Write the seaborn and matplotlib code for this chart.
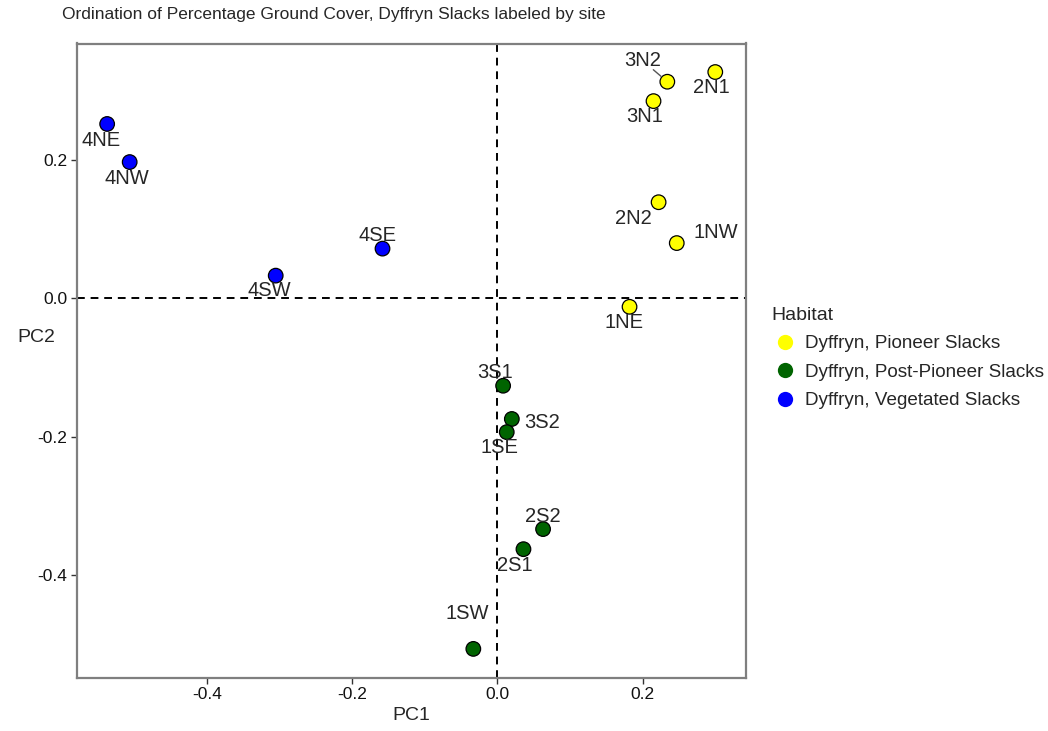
import matplotlib
matplotlib.use('Agg')
import matplotlib.pyplot as plt
import seaborn as sns
import pandas as pd

# PCA scores
sites = ['4NE', '4NW', '4SW', '4SE',
         '3N2', '2N1', '3N1', '2N2', '1NW', '1NE',
         '3S1', '3S2', '1SE', '2S2', '2S1', '1SW']
pc1 = [-0.537, -0.506, -0.305, -0.158,
       0.234, 0.300, 0.215, 0.222, 0.247, 0.182,
       0.008, 0.020, 0.013, 0.063, 0.036, -0.033]
pc2 = [0.252, 0.197, 0.033, 0.072,
       0.313, 0.327, 0.285, 0.139, 0.080, -0.012,
       -0.126, -0.174, -0.193, -0.333, -0.362, -0.506]
habitat = (['Dyffryn, Vegetated Slacks'] * 4
           + ['Dyffryn, Pioneer Slacks'] * 6
           + ['Dyffryn, Post-Pioneer Slacks'] * 6)
hab_order = ['Dyffryn, Pioneer Slacks', 'Dyffryn, Post-Pioneer Slacks',
             'Dyffryn, Vegetated Slacks']
hab_colors = ['#FFFF00', '#006400', '#0000FF']

# label offsets (pixels, x right / y down) mimicking the repelled labels
label_dx = [-6, -3, -6, -5, -25, -4, -9, -25, 39, -6, -8, 30, -7, 0, -9, -6]
label_dy = [17, 16, 15, -13, -21, 15, 15, 16, -11, 16, -13, 4, 15, -13, 16, -35]

df = pd.DataFrame({'site': sites, 'PC1': pc1, 'PC2': pc2, 'Habitat': habitat})

sns.set_style('white')
plt.rcParams['font.family'] = ['Liberation Sans', 'DejaVu Sans']

W, H = 1048, 731
fig = plt.figure(figsize=(W / 100, H / 100), dpi=100)
ax = fig.add_axes([77 / W, 1 - 677.7 / H, (746 - 77) / W, (677.7 - 43.5) / H])

ax.axhline(0, color='black', linestyle=(0, (4, 3)), linewidth=1.4, zorder=1)
ax.axvline(0, color='black', linestyle=(0, (4, 3)), linewidth=1.4, zorder=1)

sns.scatterplot(data=df, x='PC1', y='PC2', hue='Habitat', hue_order=hab_order,
                palette=dict(zip(hab_order, hab_colors)), s=110,
                edgecolor='black', linewidth=0.9, ax=ax, zorder=3)

for s, x, y, dx, dy in zip(sites, pc1, pc2, label_dx, label_dy):
    ax.annotate(s, (x, y), xytext=(dx * 0.72, -dy * 0.72), textcoords='offset points',
                ha='center', va='center', fontsize=14.5, zorder=4)
# segment for the one label pushed away from its point
i = sites.index('3N2')
ax.annotate('', (pc1[i], pc2[i]), xytext=(-14 * 0.72, 12 * 0.72),
            textcoords='offset points',
            arrowprops=dict(arrowstyle='-', color='#555555', lw=1, shrinkB=6, shrinkA=0))

ax.set_xlim(-0.5785, 0.3423)
ax.set_ylim(-0.5476, 0.3682)
ax.set_xticks([-0.4, -0.2, 0.0, 0.2])
ax.set_yticks([-0.4, -0.2, 0.0, 0.2])
ax.set_xticklabels(['-0.4', '-0.2', '0.0', '0.2'])
ax.set_yticklabels(['-0.4', '-0.2', '0.0', '0.2'])
ax.tick_params(axis='both', direction='out', length=4, width=1, color='#333333',
               labelsize=12.5, labelcolor='#111111', pad=3, bottom=True, left=True)
for sp in ax.spines.values():
    sp.set_color('#7f7f7f')
    sp.set_linewidth(1.6)

ax.set_xlabel('PC1', fontsize=14, labelpad=3)
ax.set_ylabel('PC2', fontsize=14, rotation=0, va='center', ha='center')
ax.yaxis.set_label_coords(-0.061, (677.7 - 338) / (677.7 - 43.5))

fig.text(62 / W, 1 - 19 / H,
         'Ordination of Percentage Ground Cover, Dyffryn Slacks labeled by site',
         ha='left', va='baseline', fontsize=12.5)

handles, labels = ax.get_legend_handles_labels()
for h in handles:
    h.set_markeredgecolor('none')
    h.set_markersize(11)
leg = ax.legend(handles, labels, title='Habitat', frameon=False, loc='upper left',
                bbox_to_anchor=(764 / W, 1 - 299 / H), bbox_transform=fig.transFigure,
                fontsize=13.6, title_fontsize=14, alignment='left',
                handlelength=1.4, handletextpad=0.35, labelspacing=0.6,
                borderaxespad=0)

fig.savefig('out.png', dpi=100)
